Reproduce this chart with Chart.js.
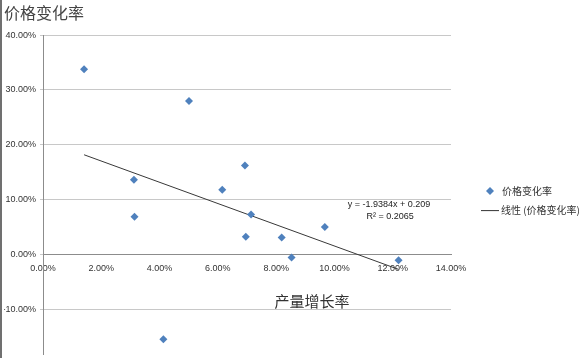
<!DOCTYPE html>
<html><head><meta charset="utf-8">
<script src="https://cdn.jsdelivr.net/npm/chart.js@4/dist/chart.umd.min.js"></script>
<style>
html,body{margin:0;padding:0;background:#fff}
#wrap{position:relative;width:583px;height:358px}
#edge{position:absolute;left:0;top:0;width:2px;height:358px;background:#707070}
</style></head><body>
<div id="wrap"><canvas id="c" width="583" height="358"></canvas><div id="edge"></div></div>
<script>
const chartTitle = '价格变化率';
const xAxisTitle = '产量增长率';
const seriesName = '价格变化率';
const trendName = '线性 (价格变化率)';
const outputGrowth = [0.0141, 0.0501, 0.0693, 0.0312, 0.0314, 0.0615, 0.0696, 0.0413, 0.0714, 0.0819, 0.0853, 0.0967, 0.122];
const priceChange  = [0.338, 0.280, 0.162, 0.136, 0.0685, 0.118, 0.032, -0.155, 0.0727, 0.0309, -0.006, 0.0497, -0.011];
const trendX = [0.0141, 0.122];
const trendY = [0.1817, -0.0275];
const equationLines = ['y = -1.9384x + 0.209', 'R² = 0.2065'];
const xTicks = [0, 0.02, 0.04, 0.06, 0.08, 0.10, 0.12, 0.14];
const yTicks = [-0.1, 0, 0.1, 0.2, 0.3, 0.4];

const pct = v => (v * 100).toFixed(2) + '%';
const FONT = '"Liberation Sans", Arial, sans-serif';
const CJK = '"Noto Sans CJK SC", sans-serif';
const BLUE = '#4F81BD';

const textPlugin = {
  id: 'extraText',
  afterDraw(chart) {
    const ctx = chart.ctx, xs = chart.scales.x, ys = chart.scales.y;
    const area = chart.chartArea;
    ctx.save();
    // trendline equation
    ctx.fillStyle = '#222';
    ctx.textAlign = 'center';
    ctx.textBaseline = 'middle';
    ctx.font = '9px ' + FONT;
    ctx.fillText(equationLines[0], xs.getPixelForValue(0.1187), ys.getPixelForValue(0.0915));
    ctx.fillText(equationLines[1], xs.getPixelForValue(0.1191), ys.getPixelForValue(0.0690));
    // x axis title
    ctx.fillStyle = '#333';
    ctx.font = '15px ' + CJK;
    ctx.fillText(xAxisTitle, xs.getPixelForValue(0.0923), ys.getPixelForValue(-0.0865));
    // legend
    const lx = area.right + 39, ly = (area.top + area.bottom) / 2 - 3.5;
    ctx.fillStyle = BLUE;
    ctx.beginPath();
    ctx.moveTo(lx, ly - 4); ctx.lineTo(lx + 4, ly); ctx.lineTo(lx, ly + 4); ctx.lineTo(lx - 4, ly);
    ctx.closePath(); ctx.fill();
    ctx.strokeStyle = '#333'; ctx.lineWidth = 1;
    ctx.beginPath();
    ctx.moveTo(lx - 9, ly + 19.5); ctx.lineTo(lx + 9, ly + 19.5); ctx.stroke();
    ctx.fillStyle = '#333';
    ctx.textAlign = 'left';
    ctx.font = '10px ' + CJK;
    ctx.fillText(chart.data.datasets[0].label, lx + 12, ly);
    ctx.fillText(chart.data.datasets[1].label, lx + 11, ly + 19);
    ctx.restore();
  }
};

new Chart(document.getElementById('c'), {
  type: 'scatter',
  data: {
    datasets: [
      {
        label: seriesName,
        data: outputGrowth.map((x, i) => ({x, y: priceChange[i]})),
        pointStyle: 'rectRot',
        pointRadius: 4,
        backgroundColor: BLUE,
        borderColor: BLUE,
        borderWidth: 0
      },
      {
        label: trendName,
        type: 'line',
        data: trendX.map((x, i) => ({x, y: trendY[i]})),
        showLine: true,
        pointRadius: 0,
        pointStyle: 'line',
        borderColor: '#383838',
        backgroundColor: '#383838',
        borderWidth: 1
      }
    ]
  },
  options: {
    responsive: false,
    animation: false,
    layout: {padding: {left: 4, right: 132, top: 0, bottom: 3}},
    plugins: {
      title: {
        display: true, text: chartTitle, align: 'start', color: '#444',
        font: {family: CJK, size: 16, weight: 'normal'},
        padding: {top: 3, bottom: 13}
      },
      legend: {display: false},
      tooltip: {enabled: false}
    },
    scales: {
      x: {
        type: 'linear',
        position: {y: 0},
        min: 0, max: 0.14,
        afterBuildTicks: s => { s.ticks = xTicks.map(v => ({value: v})); },
        afterFit: s => { s.height = 0; s.paddingLeft = 0; s.paddingRight = 0; },
        grid: {display: false, drawTicks: false},
        border: {display: true, color: '#8c8c8c'},
        ticks: {callback: v => pct(v), color: '#333', font: {family: FONT, size: 9}, padding: 9, maxRotation: 0}
      },
      y: {
        type: 'linear',
        position: 'left',
        min: -0.182, max: 0.4,
        afterBuildTicks: s => { s.ticks = yTicks.map(v => ({value: v})); },
        afterFit: s => { s.width = 39; s.paddingTop = 0; s.paddingBottom = 0; },
        grid: {color: '#c8c8c8', drawTicks: true, tickLength: 3},
        border: {display: true, color: '#8c8c8c'},
        ticks: {callback: v => pct(v), color: '#333', font: {family: FONT, size: 9}, padding: 4}
      }
    }
  },
  plugins: [textPlugin]
});
</script>
</body></html>
